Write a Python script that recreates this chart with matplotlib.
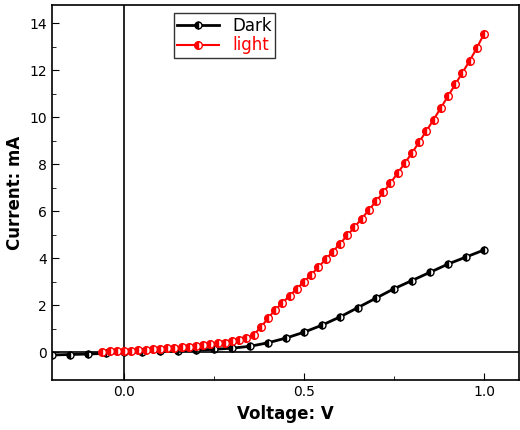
import matplotlib
matplotlib.use("Agg")
import matplotlib.pyplot as plt
import numpy as np

dark_v = [-0.2,-0.15,-0.1,-0.05,0,0.05,0.1,0.15,0.2,0.25,0.3,0.35,0.4,0.45,0.5,0.55,0.6,0.65,0.7,0.75,0.8,0.85,0.9,0.95,1.0]
dark_i = [-0.12,-0.1,-0.08,-0.05,0,0.02,0.04,0.06,0.09,0.12,0.17,0.25,0.4,0.6,0.85,1.15,1.5,1.9,2.3,2.7,3.05,3.4,3.75,4.05,4.35]

light_v = [-0.06,-0.04,-0.02,0,0.02,0.04,0.06,0.08,0.10,0.12,0.14,0.16,0.18,0.20,0.22,0.24,0.26,0.28,0.30,0.32,0.34,0.36,0.38,0.40,0.42,0.44,0.46,0.48,0.50,0.52,0.54,0.56,0.58,0.60,0.62,0.64,0.66,0.68,0.70,0.72,0.74,0.76,0.78,0.80,0.82,0.84,0.86,0.88,0.90,0.92,0.94,0.96,0.98,1.00]
light_i = [0.02,0.03,0.04,0.05,0.07,0.08,0.10,0.12,0.14,0.16,0.18,0.21,0.24,0.27,0.30,0.33,0.37,0.41,0.46,0.52,0.60,0.75,1.05,1.45,1.80,2.10,2.40,2.70,3.00,3.30,3.62,3.95,4.28,4.62,4.97,5.32,5.68,6.05,6.42,6.80,7.20,7.62,8.05,8.48,8.95,9.42,9.90,10.40,10.90,11.40,11.90,12.40,12.95,13.55]

fig = plt.figure(figsize=(5.2, 4.3), dpi=100)
ax = fig.add_axes([0.1, 0.116, 0.898, 0.872])
ax.plot(dark_v, dark_i, color='black', lw=2, marker='o', ms=5, fillstyle='left',
        markerfacecolor='black', markerfacecoloralt='white', markeredgecolor='black', label='Dark')
ax.plot(light_v, light_i, color='red', lw=1.5, marker='o', ms=5.5, fillstyle='left',
        markerfacecolor='red', markerfacecoloralt='white', markeredgecolor='red', label='light', zorder=3)
ax.axvline(0, color='black', lw=1.2)
ax.axhline(0, color='black', lw=1.2)
ax.set_xlim(-0.2, 1.097)
ax.set_ylim(-1.19, 14.77)
ax.set_xticks([0.0, 0.5, 1.0])
ax.set_xticks([0.25, 0.75], minor=True)
ax.set_yticks(range(0, 15, 2))
ax.set_yticks(range(1, 15, 2), minor=True)
ax.tick_params(which='both', direction='in', labelsize=10)
ax.tick_params(which='major', length=5)
ax.tick_params(which='minor', length=3)
ax.set_xlabel('Voltage: V', fontsize=12, fontweight='bold')
ax.set_ylabel('Current: mA', fontsize=12, fontweight='bold')
for s in ax.spines.values():
    s.set_linewidth(1.2)
leg = ax.legend(loc='upper center', bbox_to_anchor=(0.37, 1.0), fontsize=12,
                fancybox=False, edgecolor='black', handlelength=2.5, borderpad=0.2, labelspacing=0.1)
for t, c in zip(leg.get_texts(), ['black', 'red']):
    t.set_color(c)
fig.savefig('out.png', dpi=100)
